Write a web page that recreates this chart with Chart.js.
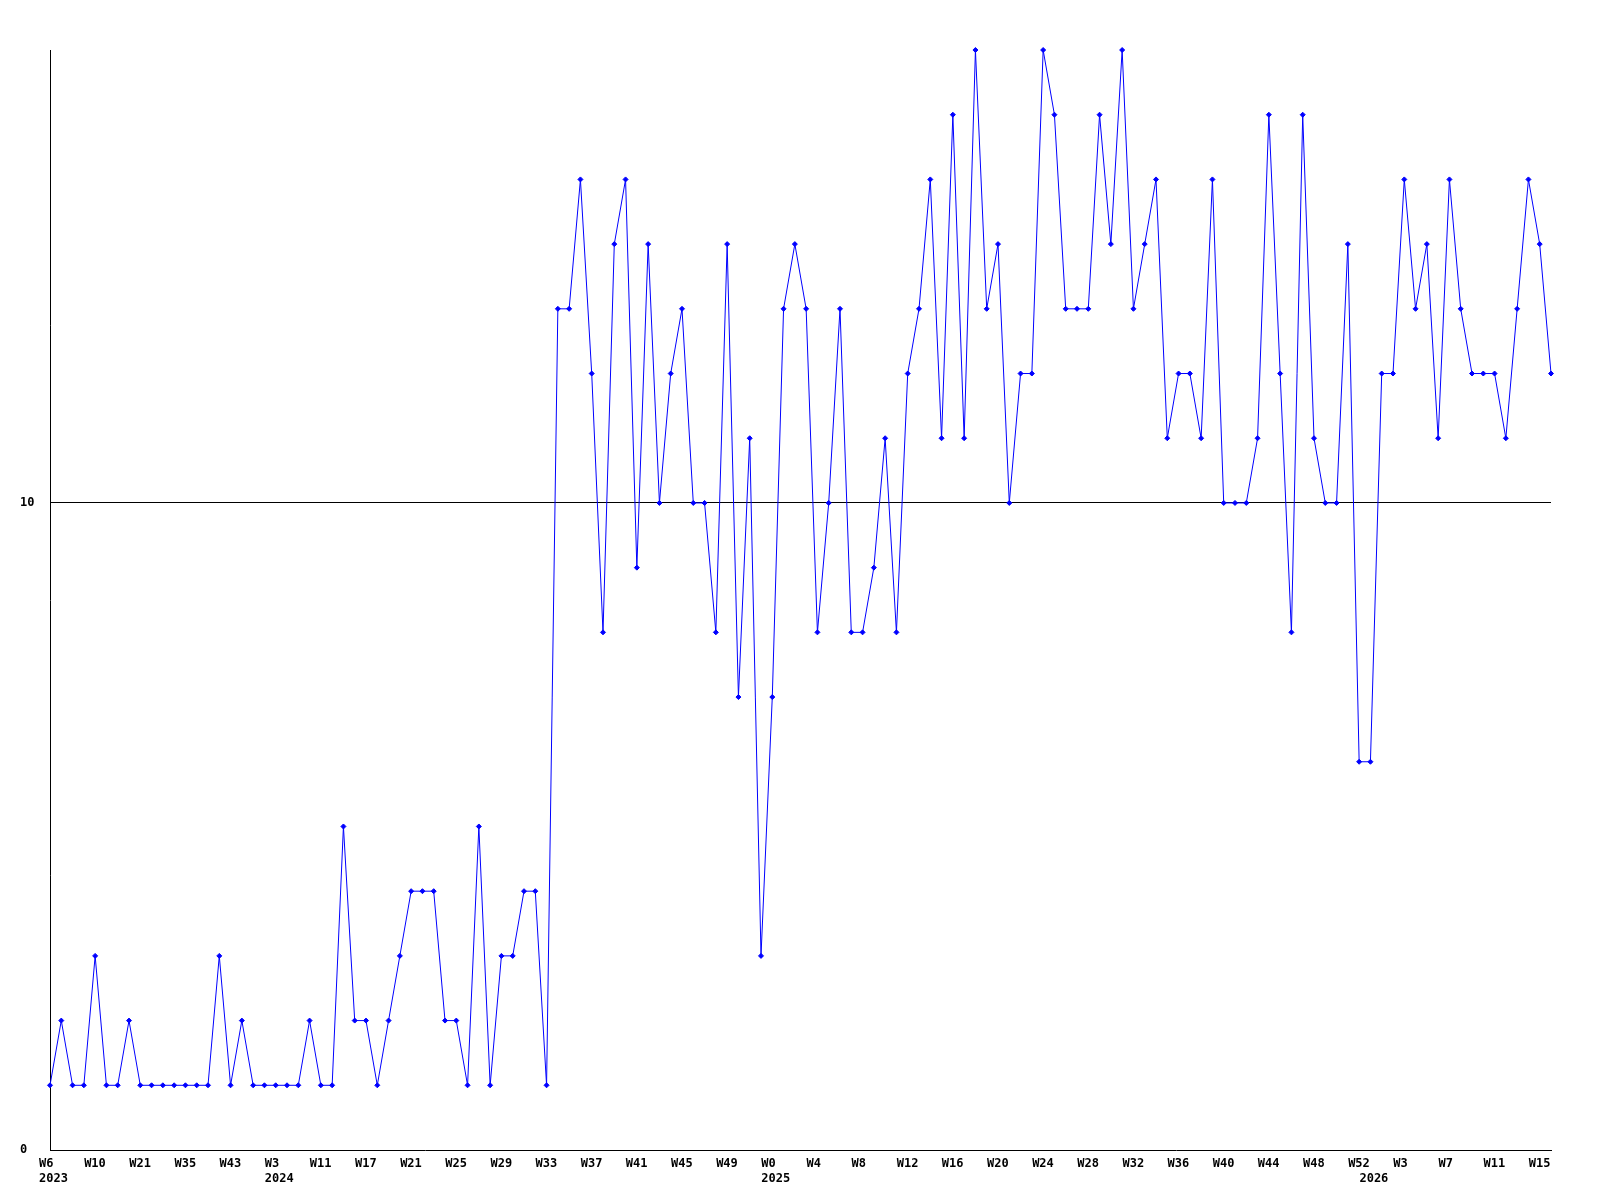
<!DOCTYPE html>
<html>
<head>
<meta charset="utf-8">
<script src="https://cdn.jsdelivr.net/npm/chart.js@4.4.1/dist/chart.umd.min.js"></script>
<style>
  html, body { margin: 0; padding: 0; background: #ffffff; }
  #c { display: block; }
</style>
</head>
<body>
<canvas id="c" width="1600" height="1200" style="width:1600px;height:1200px"></canvas>
<script>
// ---- data ----
const values = [
  1,2,1,1,3,1,1,2,1,1,
  1,1,1,1,1,3,1,2,1,1,
  1,1,1,2,1,1,5,2,2,1,
  2,3,4,4,4,2,2,1,5,1,
  3,3,4,4,1,13,13,15,12,8,
  14,15,9,14,10,12,13,10,10,8,
  14,7,11,3,7,13,14,13,8,10,
  13,8,8,9,11,8,12,13,15,11,
  16,11,17,13,14,10,12,12,17,16,
  13,13,13,16,14,17,13,14,15,11,
  12,12,11,15,10,10,10,11,16,12,
  8,16,11,10,10,14,6,6,12,12,
  15,13,14,11,15,13,12,12,12,11,
  13,15,14,12
];
// one week tick label every 4 points
const weekTicks = ['W6','W10','W21','W35','W43','W3','W11','W17','W21','W25','W29','W33','W37','W41','W45','W49',
                   'W0','W4','W8','W12','W16','W20','W24','W28','W32','W36','W40','W44','W48','W52',
                   'W3','W7','W11','W15'];
// year labels sit under the first point of each year
const yearIndex = [0, 20, 64, 117];
const yearNames = ['2023', '2024', '2025', '2026'];
const yTicks = [0, 10];
const yMax = 17;
const tickEvery = 4;

const categories = values.map((_, i) => (i % tickEvery === 0 ? weekTicks[i / tickEvery] : ''));

const monoFont = { family: 'DejaVu Sans Mono', size: 12, weight: 'bold', lineHeight: '15px' };

new Chart(document.getElementById('c'), {
  type: 'line',
  data: {
    labels: categories,
    datasets: [{
      data: values,
      borderColor: '#0000ff',
      backgroundColor: '#0000ff',
      borderWidth: 1,
      tension: 0,
      fill: false,
      pointStyle: 'rectRot',
      pointRadius: 2.5,
      pointBorderWidth: 1,
      pointBorderColor: '#0000ff',
      pointBackgroundColor: '#0000ff',
      clip: false
    }]
  },
  options: {
    responsive: false,
    animation: false,
    devicePixelRatio: 1,
    layout: { padding: { top: 50, right: 49, left: 20, bottom: 0 } },
    plugins: { legend: { display: false }, tooltip: { enabled: false }, title: { display: false } },
    scales: {
      x: {
        type: 'category',
        offset: false,
        grid: { display: false, drawTicks: false },
        border: { display: true, color: '#000000', width: 1 },
        ticks: {
          autoSkip: false,
          maxRotation: 0,
          minRotation: 0,
          align: 'start',
          labelOffset: -11,
          padding: 6,
          color: '#000000',
          font: monoFont,
          callback: function (val, i) {
            const week = i % tickEvery === 0 ? weekTicks[i / tickEvery] : '';
            const yi = yearIndex.indexOf(i);
            const year = yi >= 0 ? yearNames[yi] : '';
            if (!week && !year) return null;
            return year ? [week, year] : [week];
          }
        },
        afterFit: function (s) { s.height = 50; }
      },
      y: {
        min: 0,
        max: yMax,
        grid: {
          drawTicks: false,
          lineWidth: 1,
          color: function (ctx) { return ctx.tick && ctx.tick.value === 10 ? '#000000' : 'rgba(0,0,0,0)'; }
        },
        border: { display: true, color: '#000000', width: 1 },
        afterBuildTicks: function (s) { s.ticks = yTicks.map(v => ({ value: v })); },
        ticks: {
          crossAlign: 'far',
          padding: 4,
          color: '#000000',
          font: monoFont
        },
        afterFit: function (s) { s.width = 30; }
      }
    }
  }
});
</script>
</body>
</html>
